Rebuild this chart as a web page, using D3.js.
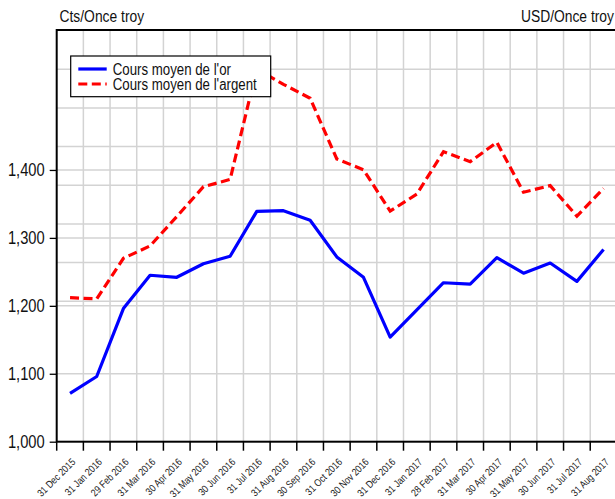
<!DOCTYPE html>
<html>
<head>
<meta charset="utf-8">
<script src="https://cdn.jsdelivr.net/npm/d3@7"></script>
<style>
  body { margin: 0; background: #fff; }
  svg { display: block; font-family: "Liberation Sans", Arial, sans-serif; }
</style>
</head>
<body>
<svg id="chart"></svg>
<script>
// DATA -----------------------------------------------------------------------------------------------------------------
var months = ["31 Dec 2015", "31 Jan 2016", "29 Feb 2016", "31 Mar 2016", "30 Apr 2016", "31 May 2016", "30 Jun 2016",
              "31 Jul 2016", "31 Aug 2016", "30 Sep 2016", "31 Oct 2016", "30 Nov 2016", "31 Dec 2016", "31 Jan 2017",
              "28 Feb 2017", "31 Mar 2017", "30 Apr 2017", "31 May 2017", "30 Jun 2017", "31 Jul 2017", "31 Aug 2017"];

// gold, USD per troy ounce (left scale)
var goldPrice = [1071, 1096, 1196, 1245, 1242, 1262, 1273, 1339, 1340, 1326, 1272,
                 1242, 1154, 1194, 1234, 1232, 1271, 1248, 1263, 1236, 1283];

// silver, cents per troy ounce (right scale)
var silverPrice = [1409, 1406, 1511, 1543, 1619, 1696, 1715, 2001, 1961, 1925, 1768,
                   1740, 1633, 1677, 1787, 1761, 1811, 1682, 1699, 1620, 1692];

var leftTicks = [1000, 1100, 1200, 1300, 1400];
var rightTicks = [1400, 1500, 1600, 1700, 1800, 1900, 2000];

var seriesNames = ["Cours moyen de l'or", "Cours moyen de l'argent"];
var axisTitles = ["Cts/Once troy", "USD/Once troy"];

// LAYOUT ---------------------------------------------------------------------------------------------------------------
var width = 615,
    height = 499,
    marginLeft = 56.7,
    marginTop = 30,
    plotW = 560.2,
    plotH = 411.7,
    narrow = 0.84;   // the fonts of the original are condensed

var svg = d3.select("#chart")
  .attr("width", width)
  .attr("height", height);

svg.append("rect")
  .attr("width", width)
  .attr("height", height)
  .attr("fill", "#fff");

var g = svg.append("g")
  .attr("transform", "translate(" + marginLeft + "," + marginTop + ")");

// SCALES ---------------------------------------------------------------------------------------------------------------
var x = d3.scaleBand()
  .domain(months)
  .range([0, plotW])
  .padding(0);

var yLeft = d3.scaleLinear()
  .domain([1000, 1606])
  .range([plotH, 0]);

// the right scale (its labels fall past the picture edge)
var yRight = d3.scaleLinear()
  .domain([1036.5, 2101.6])
  .range([plotH, 0]);

var cx = function(d) { return x(d) + x.bandwidth() / 2; };

// GRID -----------------------------------------------------------------------------------------------------------------
var grid = g.append("g")
  .attr("stroke", "#d3d3d3")
  .attr("stroke-width", 1.5);

// vertical lines sit on the band edges
grid.selectAll(".vgrid")
  .data(months.slice(1))
  .enter().append("line")
  .attr("x1", function(d) { return x(d); })
  .attr("x2", function(d) { return x(d); })
  .attr("y1", 0)
  .attr("y2", plotH);

grid.selectAll(".lgrid")
  .data(leftTicks.slice(1))
  .enter().append("line")
  .attr("x1", 0)
  .attr("x2", plotW)
  .attr("y1", function(d) { return yLeft(d); })
  .attr("y2", function(d) { return yLeft(d); });

grid.selectAll(".rgrid")
  .data(rightTicks)
  .enter().append("line")
  .attr("x1", 0)
  .attr("x2", plotW)
  .attr("y1", function(d) { return yRight(d); })
  .attr("y2", function(d) { return yRight(d); });

// LINES ----------------------------------------------------------------------------------------------------------------
var goldLine = d3.line()
  .x(function(d, i) { return cx(months[i]); })
  .y(function(d) { return yLeft(d); });

var silverLine = d3.line()
  .x(function(d, i) { return cx(months[i]); })
  .y(function(d) { return yRight(d); });

g.append("path")
  .datum(silverPrice)
  .attr("d", silverLine)
  .attr("fill", "none")
  .attr("stroke", "#ff0000")
  .attr("stroke-width", 3.2)
  .attr("stroke-dasharray", "9,4.5");

g.append("path")
  .datum(goldPrice)
  .attr("d", goldLine)
  .attr("fill", "none")
  .attr("stroke", "#0000ff")
  .attr("stroke-width", 3.2)
  .attr("stroke-linejoin", "round");

// AXES -----------------------------------------------------------------------------------------------------------------
var axisLeft = g.append("g")
  .call(d3.axisLeft(yLeft).tickValues(leftTicks).tickFormat(d3.format(",")).tickSize(7).tickSizeOuter(0));
axisLeft.select(".domain").remove();
axisLeft.selectAll(".tick line").attr("stroke", "#000").attr("stroke-width", 1.3);
axisLeft.selectAll("text")
  .attr("x", 0)
  .attr("transform", "translate(-12,0) scale(" + narrow + ",1)")
  .style("font-size", "17.5px")
  .attr("fill", "#111");

// category labels, rotated
var axisBottom = g.append("g")
  .attr("transform", "translate(0," + plotH + ")")
  .call(d3.axisBottom(x).tickSize(0).tickPadding(0));
axisBottom.select(".domain").remove();
axisBottom.selectAll("text")
  .style("font-size", "10.3px")
  .attr("fill", "#222")
  .style("text-anchor", "end")
  .attr("y", 0)
  .attr("dy", 0)
  .attr("transform", "translate(6,21) rotate(-45) scale(" + narrow + ",1)");

// tick marks on band edges
g.selectAll(".xtick")
  .data(months)
  .enter().append("line")
  .attr("x1", function(d) { return x(d); })
  .attr("x2", function(d) { return x(d); })
  .attr("y1", plotH)
  .attr("y2", plotH + 9)
  .attr("stroke", "#000")
  .attr("stroke-width", 1.5);

// frame
g.append("rect")
  .attr("width", plotW)
  .attr("height", plotH)
  .attr("fill", "none")
  .attr("stroke", "#000")
  .attr("stroke-width", 2);

// TITLES ---------------------------------------------------------------------------------------------------------------
svg.append("text")
  .attr("transform", "translate(59.5,21.5) scale(" + narrow + ",1)")
  .style("font-size", "16.5px")
  .attr("fill", "#111")
  .text(axisTitles[0]);

svg.append("text")
  .attr("transform", "translate(614,21.5) scale(" + narrow + ",1)")
  .style("font-size", "16.5px")
  .style("text-anchor", "end")
  .attr("fill", "#111")
  .text(axisTitles[1]);

// LEGEND ---------------------------------------------------------------------------------------------------------------
var legend = svg.append("g")
  .attr("transform", "translate(70.7,56)");

legend.append("rect")
  .attr("width", 200)
  .attr("height", 40.7)
  .attr("fill", "#fff")
  .attr("stroke", "#000")
  .attr("stroke-width", 1.2);

var legendRows = legend.selectAll(".row")
  .data(seriesNames)
  .enter().append("g")
  .attr("transform", function(d, i) { return "translate(0," + (13 + i * 15) + ")"; });

legendRows.append("line")
  .attr("x1", 7.6)
  .attr("x2", 36)
  .attr("stroke", function(d, i) { return i == 0 ? "#0000ff" : "#ff0000"; })
  .attr("stroke-width", 3.2)
  .attr("stroke-dasharray", function(d, i) { return i == 0 ? null : "9,4.5"; });

legendRows.append("text")
  .attr("transform", "translate(42,0) scale(" + narrow + ",1)")
  .attr("dy", "0.35em")
  .style("font-size", "15.8px")
  .attr("fill", "#111")
  .text(function(d) { return d; });
</script>
</body>
</html>
